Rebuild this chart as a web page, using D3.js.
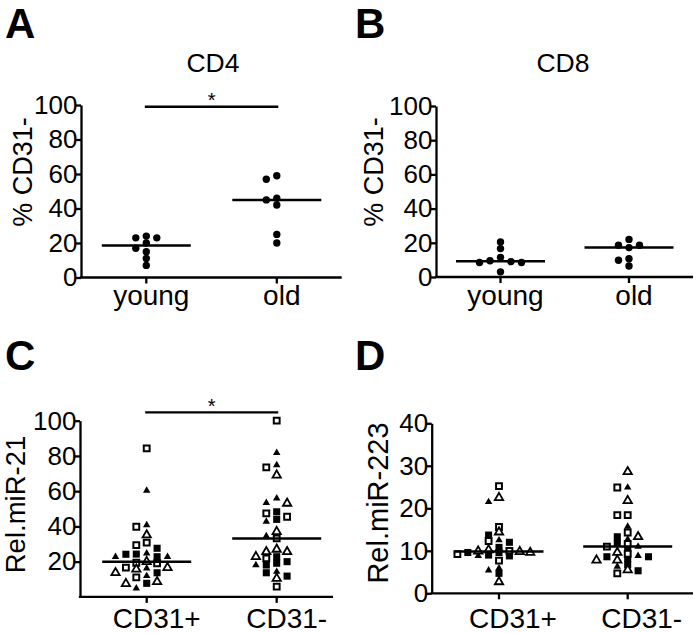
<!DOCTYPE html>
<html><head><meta charset="utf-8">
<script src="https://cdn.jsdelivr.net/npm/d3@7"></script>
<style>
body{margin:0;background:#fff}
svg{display:block}
text{font-family:"Liberation Sans",Arial,Helvetica,sans-serif;fill:#000}
</style>
</head><body>
<svg id="chart" width="700" height="633"></svg>
<script>
// ---------------- DATA ----------------
const abGroups = ["young", "old"];
const cd4Young = [24, 23, 23, 20, 17, 15, 11, 7];
const cd4Old = [59, 57, 46, 45, 42, 25, 20];
const cd8Young = [20.5, 16.6, 11.5, 9.5, 9, 8.5, 8.5, 3];
const cd8Old = [22, 18.6, 18.6, 17.2, 10.7, 9.8, 6.4];

const cdGroups = ["CD31+", "CD31-"];
const yTicksAB = [0, 20, 40, 60, 80, 100];
const yTicksMir21 = [20, 40, 60, 80, 100];
const yTicksMir223 = [0, 10, 20, 30, 40];

// miR-21, CD31+ column, by series (marker type)
const mir21PlusFilledSq = [27.6, 24.3, 24.2, 22.8, 13.7, 7.7];
const mir21PlusOpenSq = [84.3, 39.8, 30.8, 29.4, 19.4, 19.1, 16.6, 11.1];
const mir21PlusFilledTri = [60.3, 40.8, 24.7, 22.8, 22.8, 16.2, 11.9, 4.9];
const mir21PlusOpenTri = [35.1, 20, 16.6, 15.7, 13.7, 8.6, 7.5];
// miR-21, CD31- column
const mir21MinusFilledSq = [48.3, 44.0, 22.8, 20.0, 19.1, 18.1, 13.7, 11.8];
const mir21MinusOpenSq = [100, 73.5, 47.4, 45.5, 33.2, 21.9, 5.8];
const mir21MinusFilledTri = [81.8, 74.8, 55.9, 53.4, 42.7, 34.5, 18.1, 14.3];
const mir21MinusOpenTri = [69.1, 53.1, 37.0, 27.0, 25.6, 25.6, 22.8, 10.5];
// miR-223, CD31+ column
const mir223PlusFilledSq = [13.7, 12, 10.8, 9.6, 9.6, 9.0, 8.8, 4.7];
const mir223PlusOpenSq = [25.2, 15.6, 12.3, 10, 9.2, 7.7];
const mir223PlusFilledTri = [21.5, 12.5, 8.8, 5.9, 5.4];
const mir223PlusOpenTri = [22.5, 14.4, 10.2, 9.9, 9.8, 9.6, 2.7];
// miR-223, CD31- column
const mir223MinusFilledSq = [13.3, 11.8, 10.5, 8.6, 8.6, 8.2, 6.7, 5.3];
const mir223MinusOpenSq = [24.9, 18.4, 18.4, 14.3, 11.6, 11, 9.3, 4.7];
const mir223MinusFilledTri = [24.9, 15.7, 12.7, 11, 8.8, 6.3];
const mir223MinusOpenTri = [28.6, 21.8, 13.3, 9.6, 7.8, 7.8, 5.5];

// ---------------- HELPERS ----------------
const svg = d3.select("#chart");
const AXW = 2.3;

function withType(arr, type) { return arr.map(v => ({ v, type })); }

function swarm(points, y, h, slotW) {
  const sorted = points.slice().sort((a, b) => b.v - a.v);
  const placed = [];
  const order = [0, -1, 1, -2, 2, -3, 3, -4, 4, -5, 5, -6, 6];
  sorted.forEach(p => {
    const py = y(p.v);
    for (const s of order) {
      const clash = placed.some(q => q.slot === s && Math.abs(q.py - py) < h);
      if (!clash) { p.slot = s; p.py = py; placed.push(p); break; }
    }
  });
  return points.map(p => p.slot * slotW);
}

const sym = {
  filledSquare: { path: d3.symbol(d3.symbolSquare, 50)(), fill: "#000", stroke: "none", sw: 0 },
  openSquare: { path: d3.symbol(d3.symbolSquare, 34)(), fill: "#fff", stroke: "#000", sw: 2 },
  filledTriangle: { path: d3.symbol(d3.symbolTriangle, 24)(), fill: "#000", stroke: "none", sw: 0 },
  openTriangle: { path: d3.symbol(d3.symbolTriangle, 30)(), fill: "#fff", stroke: "#000", sw: 1.8 }
};

function drawPanel(c) {
  const g = svg.append("g");
  const y = d3.scaleLinear().domain(c.yDomain).range([c.y0, c.yTop]);
  const x = d3.scalePoint().domain(c.groups).range(c.catRange).padding(0);

  // y axis
  const ya = g.append("g").attr("transform", `translate(${c.yAxisX},0)`)
    .call(d3.axisLeft(y).tickValues(c.yTicks).tickSizeInner(6).tickSizeOuter(0).tickPadding(-2.5).tickFormat(d3.format("d")));
  ya.selectAll("path,line").attr("stroke", "#000").attr("stroke-width", AXW);
  ya.selectAll("text").attr("font-size", 26).attr("font-family", '"Liberation Sans",Arial,sans-serif').attr("fill", "#000");

  // x axis
  g.append("line").attr("x1", c.yAxisX - AXW / 2).attr("x2", c.xEnd)
    .attr("y1", c.y0).attr("y2", c.y0).attr("stroke", "#000").attr("stroke-width", AXW);
  c.groups.forEach(name => {
    g.append("line").attr("x1", x(name)).attr("x2", x(name))
      .attr("y1", c.y0).attr("y2", c.y0 + 6).attr("stroke", "#000").attr("stroke-width", AXW);
    g.append("text").attr("x", x(name) + c.xLabelDx).attr("y", c.y0 + c.xLabelDy)
      .attr("text-anchor", "middle").attr("font-size", 28).text(name);
  });

  // y label
  g.append("text").attr("transform", `translate(${c.ylabelX},${c.ylabelY}) rotate(-90)`)
    .attr("text-anchor", "middle").attr("font-size", c.ylabelSize).text(c.ylabel);

  // title
  if (c.title) g.append("text").attr("x", c.titleX).attr("y", c.titleY)
    .attr("text-anchor", "middle").attr("font-size", 26.5).text(c.title);

  // panel letter
  g.append("text").attr("x", c.letterX).attr("y", c.letterY)
    .attr("font-size", 42).attr("font-weight", "bold").text(c.letter);

  // data
  c.groups.forEach((name, i) => {
    const pts = c.data[i];
    const offs = swarm(pts, y, c.h, c.slotW);
    const cx = x(name);
    pts.forEach((p, k) => {
      if (p.type === "dot") {
        g.append("circle").attr("cx", cx + offs[k]).attr("cy", y(p.v)).attr("r", 3.7).attr("fill", "#000");
      } else {
        const s = sym[p.type];
        g.append("path").attr("d", s.path)
          .attr("transform", `translate(${cx + offs[k]},${y(p.v)})`)
          .attr("fill", s.fill).attr("stroke", s.stroke).attr("stroke-width", s.sw);
      }
    });
    const med = d3.median(pts, p => p.v);
    g.append("line").attr("x1", cx - 44.5).attr("x2", cx + 44.5)
      .attr("y1", y(med)).attr("y2", y(med)).attr("stroke", "#000").attr("stroke-width", 2.5);
  });

  // significance
  if (c.sig !== undefined) {
    const by = y(c.sig);
    const xa = x(c.groups[0]) - 1.5, xb = x(c.groups[1]) + 1.5;
    g.append("line").attr("x1", xa).attr("x2", xb).attr("y1", by).attr("y2", by)
      .attr("stroke", "#000").attr("stroke-width", 2.3);
    g.append("text").attr("x", (xa + xb) / 2).attr("y", by + 0.5)
      .attr("text-anchor", "middle").attr("font-size", 20).text("*");
  }
}

// ---------------- PANELS ----------------
drawPanel({
  letter: "A", letterX: 5, letterY: 38,
  title: "CD4", titleX: 213, titleY: 72,
  ylabel: "% CD31-", ylabelX: 32, ylabelY: 172, ylabelSize: 27,
  yAxisX: 81, y0: 277.5, yTop: 105, yDomain: [0, 100], yTicks: yTicksAB,
  groups: abGroups, catRange: [146.3, 276.8], xEnd: 341.7, xLabelDy: 27.5, xLabelDx: 5,
  data: [withType(cd4Young, "dot"), withType(cd4Old, "dot")], h: 6.5, slotW: 10.5,
  sig: 99
});
drawPanel({
  letter: "B", letterX: 355, letterY: 38,
  title: "CD8", titleX: 563, titleY: 72,
  ylabel: "% CD31-", ylabelX: 383, ylabelY: 172, ylabelSize: 27,
  yAxisX: 436, y0: 277, yTop: 106, yDomain: [0, 100], yTicks: yTicksAB,
  groups: abGroups, catRange: [500.5, 629], xEnd: 693, xLabelDy: 27.5, xLabelDx: 5,
  data: [withType(cd8Young, "dot"), withType(cd8Old, "dot")], h: 6.5, slotW: 10.5
});
drawPanel({
  letter: "C", letterX: 5, letterY: 370,
  ylabel: "Rel.miR-21", ylabelX: 25, ylabelY: 504.5, ylabelSize: 27.5,
  yAxisX: 80, y0: 596.9, yTop: 420.7, yDomain: [0, 100], yTicks: yTicksMir21,
  groups: cdGroups, catRange: [146.7, 276.7], xEnd: 333, xLabelDy: 31.5, xLabelDx: 10,
  data: [
    [].concat(withType(mir21PlusFilledSq, "filledSquare"), withType(mir21PlusFilledTri, "filledTriangle"),
      withType(mir21PlusOpenSq, "openSquare"), withType(mir21PlusOpenTri, "openTriangle")),
    [].concat(withType(mir21MinusFilledSq, "filledSquare"), withType(mir21MinusFilledTri, "filledTriangle"),
      withType(mir21MinusOpenSq, "openSquare"), withType(mir21MinusOpenTri, "openTriangle"))
  ], h: 6.5, slotW: 10.4,
  sig: 104.7
});
drawPanel({
  letter: "D", letterX: 355, letterY: 370,
  ylabel: "Rel.miR-223", ylabelX: 388, ylabelY: 503, ylabelSize: 29,
  yAxisX: 431.7, y0: 593.3, yTop: 423.3, yDomain: [0, 40], yTicks: yTicksMir223,
  groups: cdGroups, catRange: [499, 627.7], xEnd: 693, xLabelDy: 35, xLabelDx: 14,
  data: [
    [].concat(withType(mir223PlusFilledSq, "filledSquare"), withType(mir223PlusFilledTri, "filledTriangle"),
      withType(mir223PlusOpenSq, "openSquare"), withType(mir223PlusOpenTri, "openTriangle")),
    [].concat(withType(mir223MinusFilledSq, "filledSquare"), withType(mir223MinusFilledTri, "filledTriangle"),
      withType(mir223MinusOpenSq, "openSquare"), withType(mir223MinusOpenTri, "openTriangle"))
  ], h: 4.5, slotW: 10.4
});
</script>
</body></html>
